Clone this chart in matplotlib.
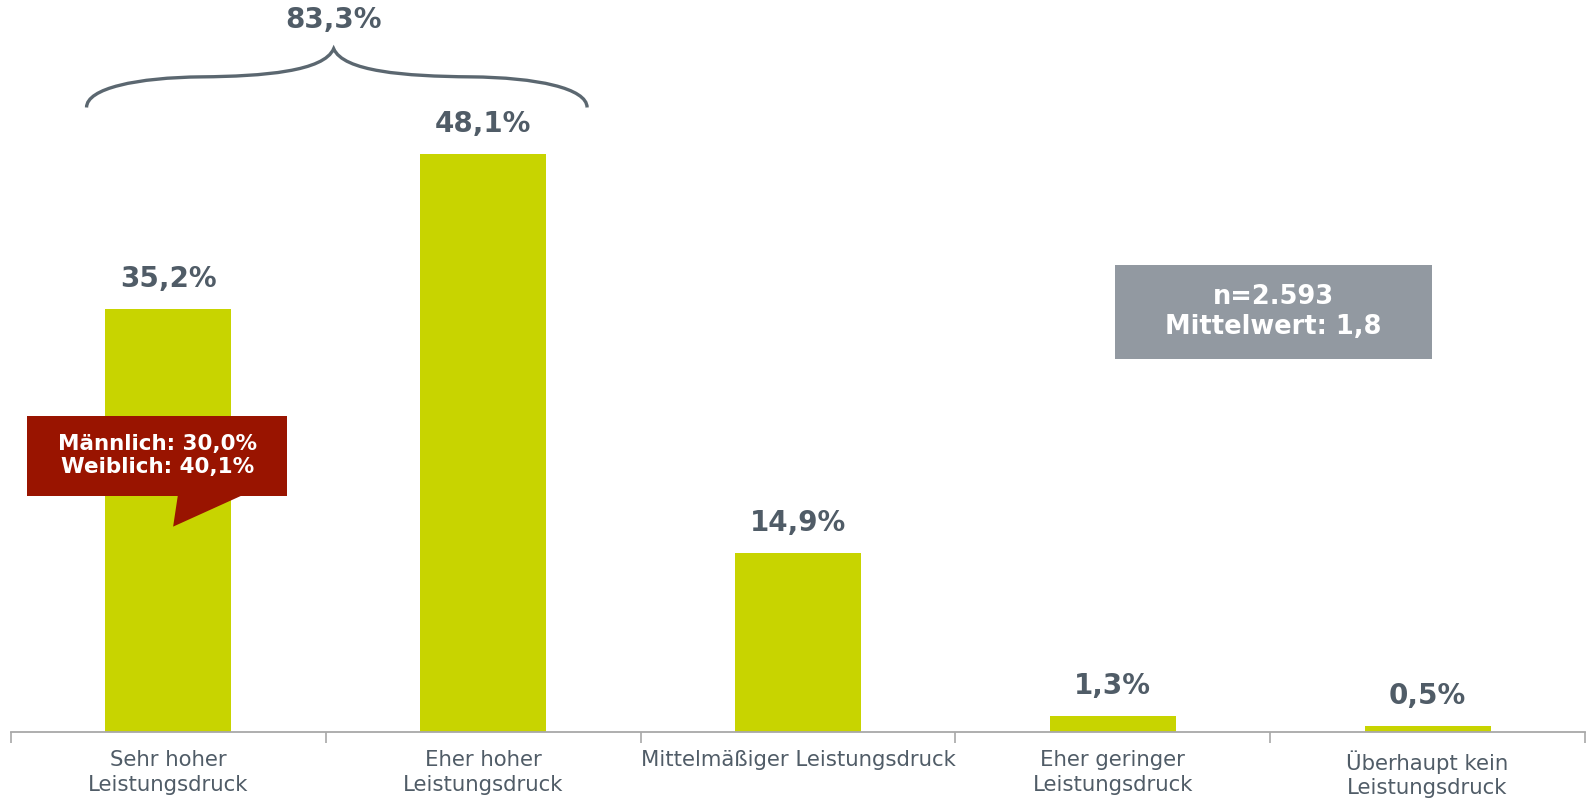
import matplotlib.pyplot as plt
from matplotlib.path import Path
from matplotlib.patches import PathPatch, Polygon, Rectangle

categories = ["Sehr hoher\nLeistungsdruck", "Eher hoher\nLeistungsdruck",
              "Mittelmäßiger Leistungsdruck", "Eher geringer\nLeistungsdruck",
              "Überhaupt kein\nLeistungsdruck"]
values = [35.2, 48.1, 14.9, 1.3, 0.5]
value_labels = ["35,2%", "48,1%", "14,9%", "1,3%", "0,5%"]
sum_label = "83,3%"
gender_text = "Männlich: 30,0%\nWeiblich: 40,1%"
info_text = "n=2.593\nMittelwert: 1,8"

bar_color = "#c8d400"
text_color = "#505c67"
axis_color = "#a8a8a8"

plt.rcParams['font.family'] = ['DejaVu Sans']

fig = plt.figure(figsize=(15.86, 7.98), dpi=100)
ax = fig.add_axes([11 / 1586, 66 / 798, 1574 / 1586, 732 / 798])

x = list(range(len(values)))
ax.bar(x, values, width=0.4, color=bar_color, zorder=2)
for xi, v, lab in zip(x, values, value_labels):
    ax.text(xi, v + 2.5, lab, ha="center", va="center", fontsize=20,
            fontweight="bold", color=text_color)

ax.set_xlim(-0.5, len(values) - 0.5)
ax.set_ylim(0, 60.95)
for s in ["left", "right", "top"]:
    ax.spines[s].set_visible(False)
ax.spines["bottom"].set_color(axis_color)
ax.spines["bottom"].set_linewidth(1.3)
ax.set_yticks([])
ax.set_xticks(x)
ax.set_xticklabels(categories, fontsize=15.3, color=text_color, linespacing=1.28)
ax.tick_params(axis="x", length=0, pad=13)
ax.set_xticks([i - 0.5 for i in range(len(values) + 1)], minor=True)
ax.tick_params(axis="x", which="minor", length=8, width=1.2, color=axis_color,
               direction="out")

# brace over first two bars
xl, xr, xm = -0.26, 1.33, 0.525
y0, ytip = 52.0, 56.9
verts = [
    (xl, y0), (xl, 53.6), (xl + 0.16, 54.5), (0.107, 54.55),
    (0.3, 54.6), (xm - 0.03, 55.0), (xm, ytip),
    (xm + 0.03, 55.0), (2 * xm - 0.3, 54.6), (xr - 0.37, 54.55),
    (xr - 0.16, 54.5), (xr, 53.6), (xr, y0),
]
codes = [Path.MOVETO] + [Path.CURVE4] * 12
ax.add_patch(PathPatch(Path(verts, codes), facecolor="none",
                       edgecolor="#5b6770", lw=2.4, clip_on=False, zorder=3))
ax.text(xm, 59.3, sum_label, ha="center", va="center", fontsize=20,
        fontweight="bold", color=text_color, clip_on=False)

# red callout
red = "#991400"
ax.add_patch(Rectangle((-0.449, 19.65), 0.826, 6.65, facecolor=red,
                       edgecolor="none", zorder=4))
ax.add_patch(Polygon([(0.03, 19.7), (0.234, 19.7), (0.015, 17.1)],
                     closed=True, facecolor=red, edgecolor="none", zorder=4))
ax.text(-0.036, 23.0, gender_text, ha="center", va="center", fontsize=15.5,
        fontweight="bold", color="white", linespacing=1.2, zorder=5)

# info box
ax.add_patch(Rectangle((3.007, 31.06), 1.007, 7.84, facecolor="#9299a1",
                       edgecolor="none", zorder=4))
ax.text(3.51, 35.0, info_text, ha="center", va="center", fontsize=18.5,
        fontweight="bold", color="white", linespacing=1.2, zorder=5)

fig.savefig("out.png", dpi=100)
